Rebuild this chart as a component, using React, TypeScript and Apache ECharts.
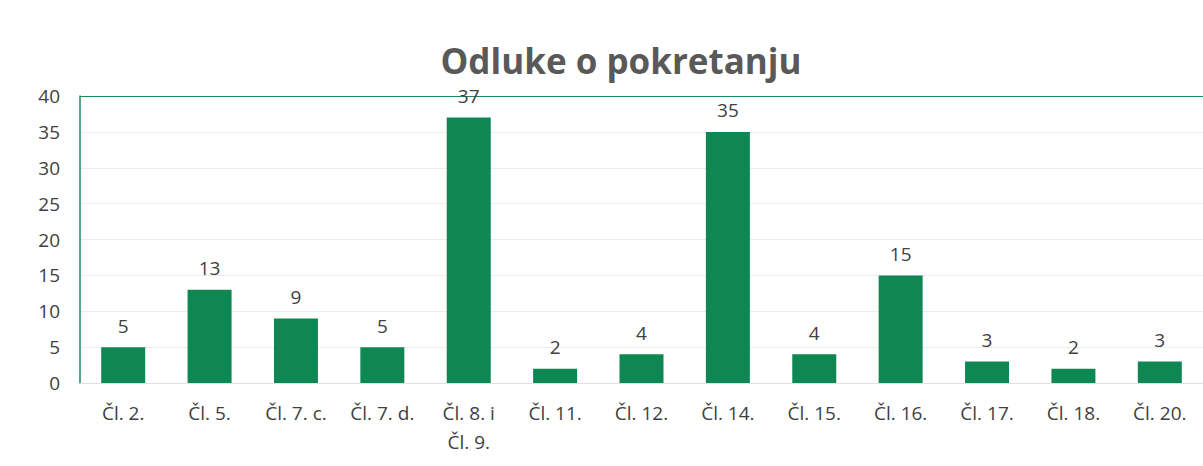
import React, { useEffect, useRef } from "react";
import * as echarts from "echarts";

const categories = ["Čl. 2.", "Čl. 5.", "Čl. 7. c.", "Čl. 7. d.", "Čl. 8. i\nČl. 9.", "Čl. 11.", "Čl. 12.", "Čl. 14.", "Čl. 15.", "Čl. 16.", "Čl. 17.", "Čl. 18.", "Čl. 20."];
const values = [5, 13, 9, 5, 37, 2, 4, 35, 4, 15, 3, 2, 3];
const title = "Odluke o pokretanju";

export default function App() {
  const ref = useRef<HTMLDivElement>(null);
  useEffect(() => {
    if (!ref.current) return;
    const chart = echarts.init(ref.current, null, { renderer: "svg" });
    const font = "'Open Sans', 'Liberation Sans', sans-serif";
    chart.setOption({
      animation: false,
      backgroundColor: "#ffffff",
      title: {
        text: title,
        left: 616,
        textAlign: "center",
        top: 38,
        textStyle: { fontFamily: font, fontSize: 35, fontWeight: "bold", color: "#595959" },
      },
      grid: { left: 80, top: 96, width: 1132, height: 287, containLabel: false },
      xAxis: {
        type: "category",
        data: categories,
        axisTick: { show: false },
        axisLine: { show: true, lineStyle: { color: "#e0e0e0", width: 1 } },
        axisLabel: { color: "#404040", fontFamily: font, fontSize: 19, margin: 15, lineHeight: 29, interval: 0 },
      },
      yAxis: {
        type: "value",
        min: 0,
        max: 40,
        interval: 5,
        axisLine: { show: true, lineStyle: { color: "#1e8a5a", width: 1.5 } },
        axisTick: { show: false },
        axisLabel: { color: "#404040", fontFamily: font, fontSize: 19, margin: 20 },
        splitLine: {
          show: true,
          lineStyle: {
            color: ["#e8e8e8", "#ececec", "#ececec", "#ececec", "#ececec", "#ececec", "#ececec", "#ececec", "#1e8a5a"],
            width: 1,
          },
        },
      },
      series: [
        {
          type: "bar",
          data: values,
          barWidth: 44,
          itemStyle: { color: "#0f8752" },
          label: { show: true, position: "top", distance: 12, color: "#404040", fontFamily: font, fontSize: 19 },
        },
      ],
    });
    return () => chart.dispose();
  }, []);
  return <div ref={ref} style={{ position: "fixed", left: 0, top: 0, width: 1203, height: 466 }} />;
}
